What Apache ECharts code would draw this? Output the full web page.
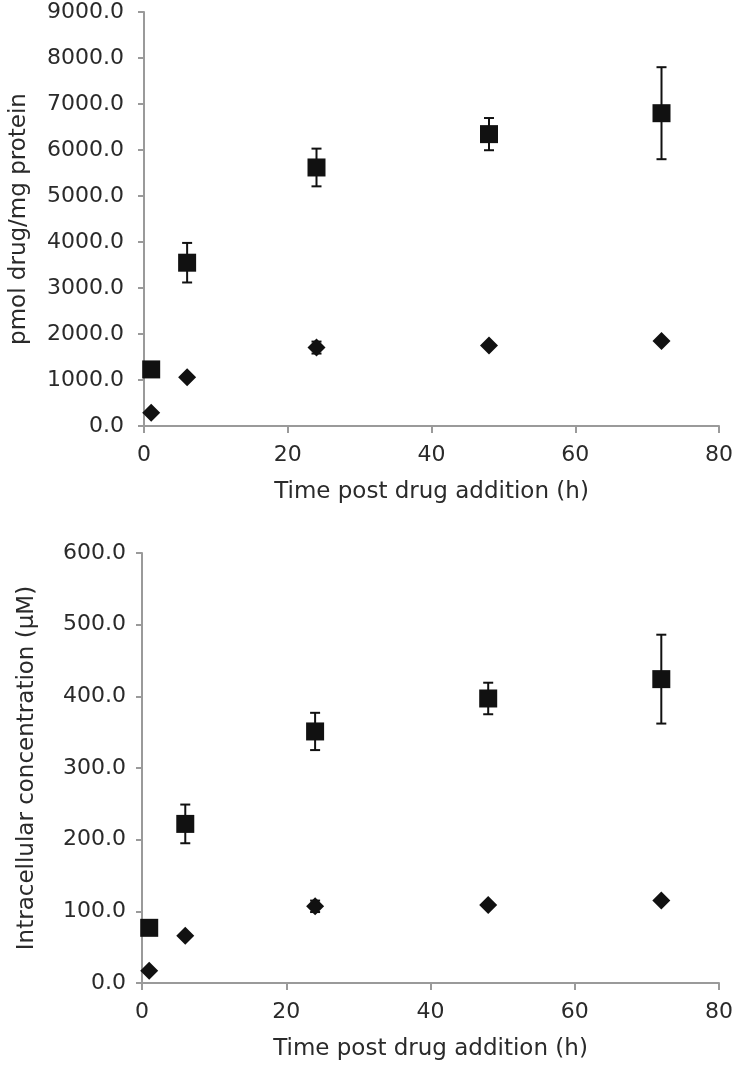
<!DOCTYPE html>
<html>
<head>
<meta charset="utf-8">
<script src="https://cdn.jsdelivr.net/npm/echarts@6/dist/echarts.min.js"></script>
<style>
html,body{margin:0;padding:0;background:#fff;}
#chart{width:736px;height:1067px;}
</style>
</head>
<body>
<div id="chart"></div>
<script>
// Time points (h)
const timePoints = [1, 6, 24, 48, 72];

// Top panel: pmol drug/mg protein
const topSquare = [1230, 3550, 5620, 6345, 6800];
const topSquareErr = [30, 430, 410, 350, 1000];
const topDiamond = [290, 1060, 1705, 1750, 1850];
const topDiamondErr = [20, 40, 130, 40, 40];

// Bottom panel: intracellular concentration (µM)
const botSquare = [77, 222, 351, 397, 424];
const botSquareErr = [2, 27, 26, 22, 62];
const botDiamond = [17, 66, 107, 109, 115];
const botDiamondErr = [1, 3, 8, 3, 3];

const xTitle = 'Time post drug addition (h)';
const topYTitle = 'pmol drug/mg protein';
const botYTitle = 'Intracellular concentration (μM)';

const FONT = 'DejaVu Sans';
const TXT = '#2a2a2a';
const AX = '#9a9a9a';
const MARK = '#111';

function pts(ys) { return timePoints.map((t, i) => [t, ys[i]]); }
function errs(ys, es) { return timePoints.map((t, i) => [t, ys[i] - es[i], ys[i] + es[i]]); }

function errorRender(params, api) {
  const x = api.value(0);
  const lo = api.coord([x, api.value(1)]);
  const hi = api.coord([x, api.value(2)]);
  const w = 5;
  const style = { stroke: MARK, lineWidth: 2 };
  return {
    type: 'group',
    children: [
      { type: 'line', shape: { x1: hi[0], y1: hi[1], x2: lo[0], y2: lo[1] }, style },
      { type: 'line', shape: { x1: hi[0] - w, y1: hi[1], x2: hi[0] + w, y2: hi[1] }, style },
      { type: 'line', shape: { x1: lo[0] - w, y1: lo[1], x2: lo[0] + w, y2: lo[1] }, style }
    ]
  };
}

function xAxis(gridIndex) {
  return {
    type: 'value', gridIndex, min: 0, max: 80, interval: 20,
    name: xTitle, nameLocation: 'middle', nameGap: 55,
    nameTextStyle: { fontFamily: FONT, fontSize: 23, color: TXT },
    axisLine: { show: true, lineStyle: { color: AX, width: 2 } },
    axisTick: { show: true, length: 7, lineStyle: { color: AX, width: 2 } },
    axisLabel: { fontFamily: FONT, fontSize: 22, color: TXT, margin: 18 },
    splitLine: { show: false }
  };
}
function yAxis(gridIndex, max, interval, name, nameGap, margin) {
  return {
    type: 'value', gridIndex, min: 0, max, interval,
    name, nameLocation: 'middle', nameGap,
    nameTextStyle: { fontFamily: FONT, fontSize: 23, color: TXT },
    axisLine: { show: true, lineStyle: { color: AX, width: 2 } },
    axisTick: { show: true, length: 6, lineStyle: { color: AX, width: 2 } },
    axisLabel: { fontFamily: FONT, fontSize: 22, color: TXT, margin, formatter: v => v.toFixed(1) },
    splitLine: { show: false }
  };
}

function scatter(gi, sym, ys) {
  return {
    type: 'scatter', xAxisIndex: gi, yAxisIndex: gi, symbol: sym, symbolSize: 18,
    itemStyle: { color: MARK, opacity: 1 }, data: pts(ys), z: 3
  };
}
function errSeries(gi, ys, es) {
  return {
    type: 'custom', xAxisIndex: gi, yAxisIndex: gi, renderItem: errorRender,
    data: errs(ys, es), z: 1, encode: { x: 0, y: [1, 2] }
  };
}

const chart = echarts.init(document.getElementById('chart'), null, { renderer: 'canvas' });
chart.setOption({
  backgroundColor: '#fff',
  animation: false,
  grid: [
    { left: 142, right: 15, top: 12, height: 414 },
    { left: 142, right: 15, top: 553, height: 430 }
  ],
  xAxis: [xAxis(0), xAxis(1)],
  yAxis: [
    yAxis(0, 9000, 1000, topYTitle, 113, 20),
    yAxis(1, 600, 100, botYTitle, 103, 16)
  ],
  series: [
    errSeries(0, topSquare, topSquareErr),
    errSeries(0, topDiamond, topDiamondErr),
    scatter(0, 'rect', topSquare),
    scatter(0, 'diamond', topDiamond),
    errSeries(1, botSquare, botSquareErr),
    errSeries(1, botDiamond, botDiamondErr),
    scatter(1, 'rect', botSquare),
    scatter(1, 'diamond', botDiamond)
  ]
});
</script>
</body>
</html>
